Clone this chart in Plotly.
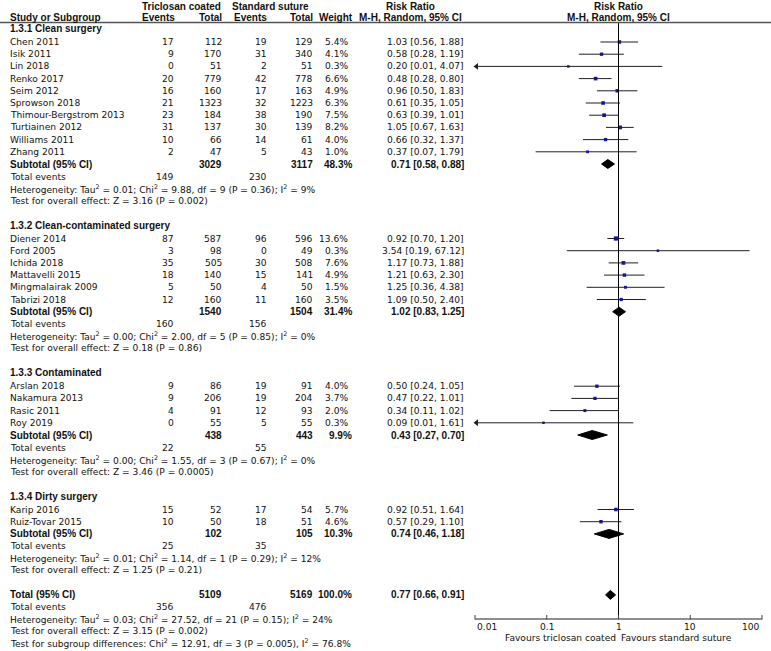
import math
import plotly.graph_objects as go

W, H = 771, 651

# ---------------- data ----------------
group_titles = ["1.3.1 Clean surgery", "1.3.2 Clean-contaminated surgery",
                "1.3.3 Contaminated", "1.3.4 Dirty surgery"]

study = ["Chen 2011", "Isik 2011", "Lin 2018", "Renko 2017", "Seim 2012", "Sprowson 2018",
         "Thimour-Bergstrom 2013", "Turtiainen 2012", "Williams 2011", "Zhang 2011",
         "Diener 2014", "Ford 2005", "Ichida 2018", "Mattavelli 2015", "Mingmalairak 2009", "Tabrizi 2018",
         "Arslan 2018", "Nakamura 2013", "Rasic 2011", "Roy 2019",
         "Karip 2016", "Ruiz-Tovar 2015"]
group_id = [0]*10 + [1]*6 + [2]*4 + [3]*2
events_t = [17, 9, 0, 20, 16, 21, 23, 31, 10, 2, 87, 3, 35, 18, 5, 12, 9, 9, 4, 0, 15, 10]
total_t = [112, 170, 51, 779, 160, 1323, 184, 137, 66, 47, 587, 98, 505, 140, 50, 160, 86, 206, 91, 55, 52, 50]
events_c = [19, 31, 2, 42, 17, 32, 38, 30, 14, 5, 96, 0, 30, 15, 4, 11, 19, 19, 12, 5, 17, 18]
total_c = [129, 340, 51, 778, 163, 1223, 190, 139, 61, 43, 596, 49, 508, 141, 50, 160, 91, 204, 93, 55, 54, 51]
weight = [5.4, 4.1, 0.3, 6.6, 4.9, 6.3, 7.5, 8.2, 4.0, 1.0, 13.6, 0.3, 7.6, 4.9, 1.5, 3.5, 4.0, 3.7, 2.0, 0.3, 5.7, 4.6]
rr = [1.03, 0.58, 0.20, 0.48, 0.96, 0.61, 0.63, 1.05, 0.66, 0.37, 0.92, 3.54, 1.17, 1.21, 1.25, 1.09,
      0.50, 0.47, 0.34, 0.09, 0.92, 0.57]
rr_lo = [0.56, 0.28, 0.01, 0.28, 0.50, 0.35, 0.39, 0.67, 0.32, 0.07, 0.70, 0.19, 0.73, 0.63, 0.36, 0.50,
         0.24, 0.22, 0.11, 0.01, 0.51, 0.29]
rr_hi = [1.88, 1.19, 4.07, 0.80, 1.83, 1.05, 1.01, 1.63, 1.37, 1.79, 1.20, 67.12, 1.88, 2.30, 4.38, 2.40,
         1.05, 1.01, 1.02, 1.61, 1.64, 1.10]

sub_total_t = [3029, 1540, 438, 102]
sub_total_c = [3117, 1504, 443, 105]
sub_weight = [48.3, 31.4, 9.9, 10.3]
sub_rr = [0.71, 1.02, 0.43, 0.74]
sub_lo = [0.58, 0.83, 0.27, 0.46]
sub_hi = [0.88, 1.25, 0.70, 1.18]
sub_events_t = [149, 160, 22, 25]
sub_events_c = [230, 156, 55, 35]
sub_het = ["Tau<sup>2</sup> = 0.01; Chi<sup>2</sup> = 9.88, df = 9 (P = 0.36); I<sup>2</sup> = 9%",
           "Tau<sup>2</sup> = 0.00; Chi<sup>2</sup> = 2.00, df = 5 (P = 0.85); I<sup>2</sup> = 0%",
           "Tau<sup>2</sup> = 0.00; Chi<sup>2</sup> = 1.55, df = 3 (P = 0.67); I<sup>2</sup> = 0%",
           "Tau<sup>2</sup> = 0.01; Chi<sup>2</sup> = 1.14, df = 1 (P = 0.29); I<sup>2</sup> = 12%"]
sub_z = ["Z = 3.16 (P = 0.002)", "Z = 0.18 (P = 0.86)", "Z = 3.46 (P = 0.0005)", "Z = 1.25 (P = 0.21)"]

tot_total_t, tot_total_c, tot_weight = 5109, 5169, 100.0
tot_rr, tot_lo, tot_hi = 0.77, 0.66, 0.91
tot_events_t, tot_events_c = 356, 476
tot_het = "Tau<sup>2</sup> = 0.03; Chi<sup>2</sup> = 27.52, df = 21 (P = 0.15); I<sup>2</sup> = 24%"
tot_z = "Z = 3.15 (P = 0.002)"
subgroup_diff = "Chi<sup>2</sup> = 12.91, df = 3 (P = 0.005), I<sup>2</sup> = 76.8%"

axis_ticks = [0.01, 0.1, 1, 10, 100]
axis_tick_labels = ["0.01", "0.1", "1", "10", "100"]

# ---------------- layout helpers ----------------
FONT = "DejaVu Sans"
BFONT = "Liberation Sans"
FS = 9.1
BFS = 10.0
TXT = "#111111"
X_NAME, X_EVT, X_TOTT, X_EVC, X_TOTC, X_W, X_RR = 8, 176, 224, 269, 315, 350, 466
ROW = 12.2

annotations = []


def txt(xpx, y, s, anchor="left", bold=False):
    if bold:
        font = dict(family=BFONT, size=BFS, color=TXT, weight="bold")
    else:
        font = dict(family=FONT, size=FS, color=TXT)
    annotations.append(dict(x=xpx / W, y=y, xref="paper", yref="y", text=s, showarrow=False,
                            xanchor=anchor, yanchor="middle", font=font))


def xtxt(xval, y, s, anchor="center", bold=False):
    if bold:
        font = dict(family=BFONT, size=BFS, color=TXT, weight="bold")
    else:
        font = dict(family=FONT, size=FS, color=TXT)
    annotations.append(dict(x=math.log10(xval), y=y, xref="x", yref="y", text=s, showarrow=False,
                            xanchor=anchor, yanchor="middle", font=font))


def ci_text(r, lo, hi):
    return f"{r:.2f} [{lo:.2f}, {hi:.2f}]"


fig = go.Figure()

# headers
txt(181, 6, "Triclosan coated", "center", True)
txt(270, 6, "Standard suture", "center", True)
txt(410, 6, "Risk Ratio", "center", True)
txt(X_NAME, 17, "Study or Subgroup", "left", True)
txt(X_EVT + 1, 17, "Events", "right", True)
txt(X_TOTT, 17, "Total", "right", True)
txt(X_EVC, 17, "Events", "right", True)
txt(X_TOTC, 17, "Total", "right", True)
txt(355, 17, "Weight", "right", True)
txt(410, 17, "M-H, Random, 95% CI", "center", True)
xtxt(1, 6, "Risk Ratio", "center", True)
xtxt(1, 17, "M-H, Random, 95% CI", "center", True)

MARK = "#1414a0"
LINE = "#202020"

y = 28.5
for g, title in enumerate(group_titles):
    txt(X_NAME, y, title, "left", True)
    yy = y + 13.5
    idx = [i for i, gi in enumerate(group_id) if gi == g]
    for k, i in enumerate(idx):
        ys = yy + k * ROW
        txt(X_NAME, ys, study[i])
        txt(X_EVT, ys, str(events_t[i]), "right")
        txt(X_TOTT, ys, str(total_t[i]), "right")
        txt(X_EVC, ys, str(events_c[i]), "right")
        txt(X_TOTC, ys, str(total_c[i]), "right")
        txt(X_W, ys, f"{weight[i]:.1f}%", "right")
        txt(X_RR, ys, ci_text(rr[i], rr_lo[i], rr_hi[i]), "right")
        fig.add_trace(go.Scatter(x=[rr_lo[i], rr_hi[i]], y=[ys, ys], mode="lines",
                                 line=dict(color=LINE, width=1), hoverinfo="skip", showlegend=False))
        fig.add_trace(go.Scatter(x=[rr[i]], y=[ys], mode="markers", cliponaxis=False,
                                 marker=dict(symbol="square", size=2.2 + 0.55 * weight[i] ** 0.5, color=MARK,
                                             line=dict(width=0)),
                                 hoverinfo="skip", showlegend=False))
        if rr_lo[i] <= 0.01:
            fig.add_trace(go.Scatter(x=[0.0105], y=[ys], mode="markers", cliponaxis=False,
                                     marker=dict(symbol="triangle-left", size=6, color=LINE, line=dict(width=0)),
                                     hoverinfo="skip", showlegend=False))
    ysub = yy + len(idx) * ROW
    txt(X_NAME, ysub, "Subtotal (95% CI)", "left", True)
    txt(X_TOTT, ysub, str(sub_total_t[g]), "right", True)
    txt(X_TOTC, ysub, str(sub_total_c[g]), "right", True)
    txt(X_W + 4, ysub, f"{sub_weight[g]:.1f}%", "right", True)
    txt(X_RR, ysub, ci_text(sub_rr[g], sub_lo[g], sub_hi[g]), "right", True)
    fig.add_trace(go.Scatter(x=[sub_lo[g], sub_rr[g], sub_hi[g], sub_rr[g], sub_lo[g]],
                             y=[ysub, ysub - 4.5, ysub, ysub + 4.5, ysub], mode="lines", fill="toself",
                             fillcolor="black", line=dict(color="black", width=1),
                             hoverinfo="skip", showlegend=False))
    yte = ysub + 12.5
    txt(X_NAME, yte, "Total events")
    txt(X_EVT, yte, str(sub_events_t[g]), "right")
    txt(X_EVC, yte, str(sub_events_c[g]), "right")
    txt(X_NAME, yte + 12, "Heterogeneity: " + sub_het[g])
    txt(X_NAME, yte + 24, "Test for overall effect: " + sub_z[g])
    y = yte + 24 + 24.5

# overall
yt = y
txt(X_NAME, yt, "Total (95% CI)", "left", True)
txt(X_TOTT, yt, str(tot_total_t), "right", True)
txt(X_TOTC, yt, str(tot_total_c), "right", True)
txt(X_W + 4, yt, f"{tot_weight:.1f}%", "right", True)
txt(X_RR, yt, ci_text(tot_rr, tot_lo, tot_hi), "right", True)
fig.add_trace(go.Scatter(x=[tot_lo, tot_rr, tot_hi, tot_rr, tot_lo],
                         y=[yt, yt - 4.5, yt, yt + 4.5, yt], mode="lines", fill="toself",
                         fillcolor="black", line=dict(color="black", width=1),
                         hoverinfo="skip", showlegend=False))
txt(X_NAME, yt + 12.3, "Total events")
txt(X_EVT, yt + 12.3, str(tot_events_t), "right")
txt(X_EVC, yt + 12.3, str(tot_events_c), "right")
txt(X_NAME, yt + 24.3, "Heterogeneity: " + tot_het)
txt(X_NAME, yt + 36.3, "Test for overall effect: " + tot_z)
txt(X_NAME, yt + 48.3, "Test for subgroup differences: " + subgroup_diff)

# axis + reference line
AXIS_Y = 619
fig.add_trace(go.Scatter(x=[1, 1], y=[22.5, AXIS_Y], mode="lines", line=dict(color="black", width=1),
                         hoverinfo="skip", showlegend=False))
fig.add_trace(go.Scatter(x=[axis_ticks[0], axis_ticks[-1]], y=[AXIS_Y, AXIS_Y], mode="lines",
                         line=dict(color="#6a6a6a", width=1.6), hoverinfo="skip", showlegend=False))
for t, lab in zip(axis_ticks, axis_tick_labels):
    fig.add_trace(go.Scatter(x=[t, t], y=[AXIS_Y - 4, AXIS_Y + 0.5], mode="lines", cliponaxis=False,
                             line=dict(color="#444444", width=1), hoverinfo="skip", showlegend=False))
    anchor = "left" if t == axis_ticks[0] else ("right" if t == axis_ticks[-1] else "center")
    xtxt(t, 627, lab, anchor)
xtxt(0.97, 637.5, "Favours triclosan coated", "right")
xtxt(1.03, 637.5, "Favours standard suture", "left")

# x axis geometry: 0.01 -> 475px, 100 -> 762px
PX_LO, PX_HI = 475.0, 762.0
per_dec = (PX_HI - PX_LO) / 4.0
r0, r1 = -2.5, 2.1
d0 = (PX_LO + (r0 + 2) * per_dec) / W
d1 = (PX_HI + (r1 - 2) * per_dec) / W

fig.update_layout(
    width=W, height=H,
    margin=dict(l=0, r=0, t=0, b=0, pad=0),
    paper_bgcolor="white", plot_bgcolor="white",
    xaxis=dict(type="log", range=[r0, r1], domain=[d0, d1], visible=False, fixedrange=True),
    yaxis=dict(range=[H, 0], domain=[0, 1], visible=False, fixedrange=True),
    shapes=[dict(type="line", xref="paper", yref="y", x0=0, x1=1, y0=22.5, y1=22.5,
                 line=dict(color="#555555", width=1.3))],
    annotations=annotations,
    showlegend=False,
    hovermode=False,
)

fig.write_html("out.html", config={"displayModeBar": False},
               post_script="document.body.style.margin='0px';document.body.style.padding='0px';")
